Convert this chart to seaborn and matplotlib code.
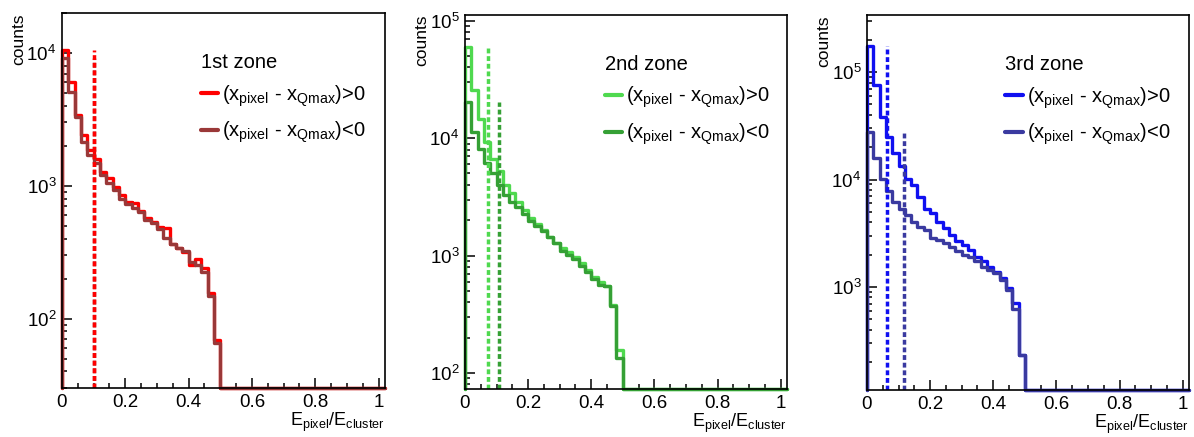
import numpy as np
import pandas as pd
import matplotlib
matplotlib.use("Agg")
import matplotlib.pyplot as plt
from matplotlib.ticker import MultipleLocator, LogLocator, FuncFormatter, NullFormatter
import seaborn as sns

sns.set_theme(style="ticks")
plt.rcParams["font.family"] = ["Liberation Sans", "DejaVu Sans"]
plt.rcParams["mathtext.fontset"] = "custom"
plt.rcParams["mathtext.rm"] = "Liberation Sans"
plt.rcParams["mathtext.it"] = "Liberation Sans:italic"
for key in ["text.color", "axes.labelcolor", "xtick.color", "ytick.color", "axes.edgecolor"]:
    plt.rcParams[key] = "black"

# ── 데이터 (bin width 0.02, 0 ~ 1.02) ───────────────────────
BIN_WIDTH = 0.02
N_BINS    = 51

zone_names = ["1st zone", "2nd zone", "3rd zone"]

# 1st zone
z1_pos = [10470, 6030, 3390, 2400, 1860, 1580, 1260, 1150, 980, 850, 760, 740, 645,
          575, 535, 490, 480, 365, 340, 315, 255, 280, 240, 155, 69]
z1_neg = [9120, 5130, 3310, 2140, 1700, 1480, 1200, 1050, 930, 795, 725, 675, 630,
          550, 525, 470, 405, 365, 340, 325, 265, 255, 225, 148, 66]
# 2nd zone
z2_pos = [60260, 25700, 14450, 9330, 6610, 5250, 3980, 3390, 2880, 2450, 2090, 1860, 1660,
          1450, 1290, 1150, 1070, 980, 870, 760, 660, 600, 550, 380, 158]
z2_neg = [20400, 11200, 8130, 6170, 5010, 3980, 3310, 2880, 2570, 2240, 1950, 1780, 1620,
          1450, 1290, 1100, 1020, 930, 810, 725, 630, 560, 550, 370, 135]
# 3rd zone
z3_pos = [173800, 75900, 38000, 25100, 17800, 13500, 10200, 8910, 6920, 5370, 4900, 4070, 3550,
          3020, 2690, 2450, 2190, 1910, 1740, 1550, 1380, 1200, 980, 710, 234]
z3_neg = [27500, 15850, 10200, 7760, 6170, 5370, 4680, 4070, 3630, 3390, 2880, 2750, 2570,
          2340, 2140, 2000, 1910, 1740, 1550, 1450, 1350, 1170, 930, 620, 234]

# 평균 위치 (dashed)
mean_pos = [0.100, 0.074, 0.064]
mean_neg = [0.100, 0.109, 0.118]

y_limits = [(30, 2.0e4), (73, 1.12e5), (110, 3.4e5)]

colors_pos = ["#ff0000", "#4fd94f", "#1010f0"]
colors_neg = ["#9a3838", "#35a035", "#3a3aa0"]

LABEL_POS = r"($\mathregular{x_{pixel}}$ - $\mathregular{x_{Qmax}}$)>0"
LABEL_NEG = r"($\mathregular{x_{pixel}}$ - $\mathregular{x_{Qmax}}$)<0"

axes_rect = [
    [0.0519, 0.1121, 0.2705, 0.858],
    [0.3894, 0.1098, 0.2697, 0.856],
    [0.7261, 0.1076, 0.2697, 0.858],
]
legend_anchor = [(0.405, 0.915), (0.41, 0.915), (0.405, 0.915)]


def step_frame(counts, floor):
    full = np.zeros(N_BINS)
    full[:len(counts)] = counts
    full = np.where(full > 0, full, floor)
    edges = np.arange(N_BINS + 1) * BIN_WIDTH
    x = np.concatenate([[0.0], edges])
    y = np.concatenate([[floor], full, [full[-1]]])
    return pd.DataFrame({"x": x, "y": y})


def log_fmt(v, pos):
    return r"$\mathregular{10^{%d}}$" % round(np.log10(v))


fig = plt.figure(figsize=(11.94, 4.37), dpi=100)
data = [(z1_pos, z1_neg), (z2_pos, z2_neg), (z3_pos, z3_neg)]

for i, (pos, neg) in enumerate(data):
    ax = fig.add_axes(axes_rect[i])
    lo, hi = y_limits[i]
    ax.set_yscale("log")

    handles = []
    for counts, col, lab in [(pos, colors_pos[i], LABEL_POS), (neg, colors_neg[i], LABEL_NEG)]:
        df = step_frame(counts, lo)
        sns.lineplot(data=df, x="x", y="y", ax=ax, color=col, lw=2.4,
                     drawstyle="steps-post", estimator=None, sort=False,
                     clip_on=False, label=lab)
        handles.append(ax.lines[-1])

    # 평균 위치 (dotted)
    ax.vlines(mean_neg[i], lo, neg[0], color=colors_neg[i], lw=2.5,
              linestyles=(0, (1.4, 0.8)))
    ax.vlines(mean_pos[i], lo, pos[0], color=colors_pos[i], lw=2.5,
              linestyles=(0, (1.4, 0.8)))

    ax.set_xlim(0, 1.02)
    ax.set_ylim(lo, hi)

    ax.xaxis.set_major_locator(MultipleLocator(0.2))
    ax.xaxis.set_minor_locator(MultipleLocator(0.05))
    ax.xaxis.set_major_formatter(FuncFormatter(lambda v, p: "%g" % round(v, 2)))
    ax.yaxis.set_major_locator(LogLocator(base=10, numticks=10))
    ax.yaxis.set_minor_locator(LogLocator(base=10, subs=np.arange(2, 10), numticks=10))
    ax.yaxis.set_major_formatter(FuncFormatter(log_fmt))
    ax.yaxis.set_minor_formatter(NullFormatter())

    ax.tick_params(which="both", direction="in", top=False, right=False,
                   labelsize=13.5, width=1.1, color="black", pad=4)
    ax.tick_params(which="major", length=7)
    ax.tick_params(which="minor", length=3.5)
    for s in ax.spines.values():
        s.set_linewidth(1.2)
        s.set_color("black")

    ax.set_xlabel(r"$\mathregular{E_{pixel}/E_{cluster}}$", fontsize=13, loc="right")
    ax.xaxis.set_label_coords(1.0, -0.06)
    ax.set_ylabel("counts", fontsize=12.5, loc="top")
    ax.yaxis.set_label_coords(-0.11, 1.0)

    leg = ax.legend(handles=handles, labels=[LABEL_POS, LABEL_NEG], title=zone_names[i],
                    loc="upper left", bbox_to_anchor=legend_anchor[i], frameon=False,
                    fontsize=14.5, title_fontsize=14.5, handlelength=0.85, handletextpad=0.2,
                    labelspacing=0.55, alignment="left", borderaxespad=0)
    for ln in leg.get_lines():
        ln.set_linewidth(3)

fig.savefig("out.png", dpi=100)
